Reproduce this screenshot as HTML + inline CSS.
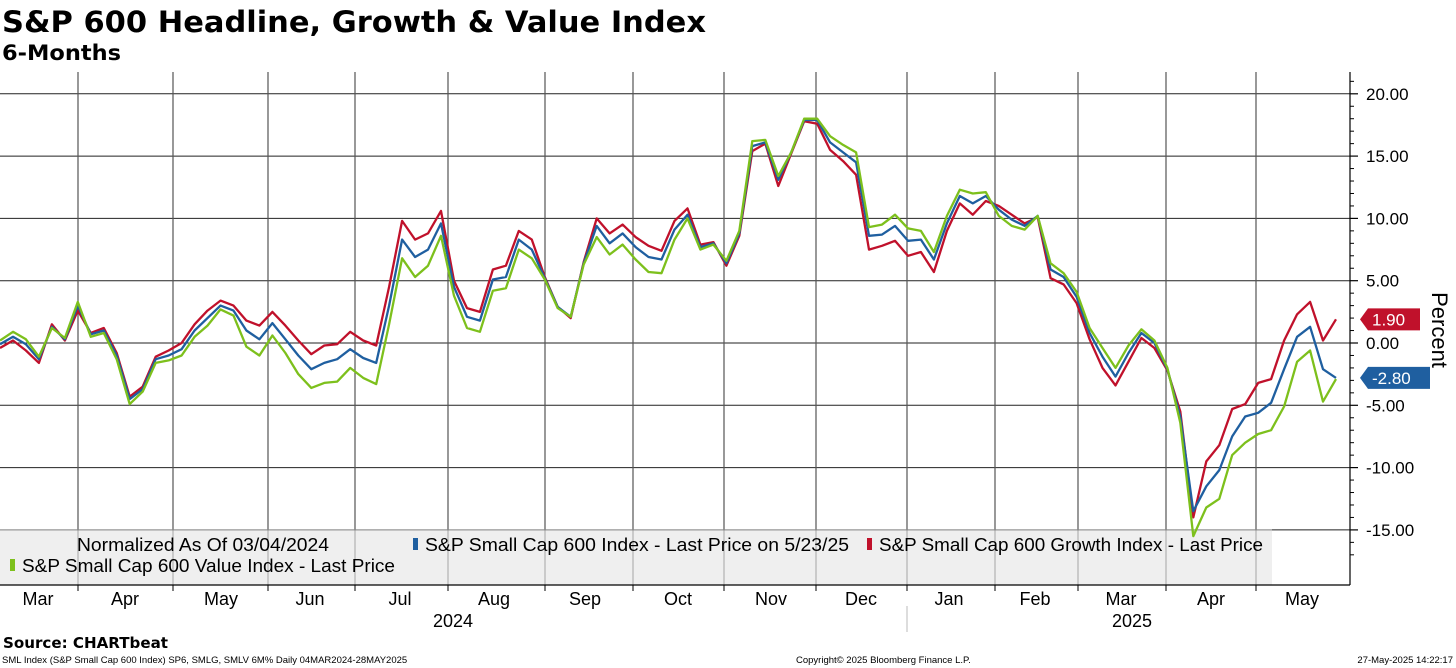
<!DOCTYPE html>
<html><head><meta charset="utf-8">
<style>
body{margin:0;background:#fff;font-family:"Liberation Sans",sans-serif;}
#wrap{position:relative;width:1456px;height:668px;overflow:hidden;}
</style></head>
<body>
<div id="wrap">
<svg id="chart" width="1456" height="668" xmlns="http://www.w3.org/2000/svg">
<text x="2" y="32" font-size="29" font-weight="bold" font-family="DejaVu Sans, sans-serif" textLength="704" lengthAdjust="spacingAndGlyphs">S&amp;P 600 Headline, Growth &amp; Value Index</text>
<text x="2" y="60" font-size="21" font-weight="bold" font-family="DejaVu Sans, sans-serif" textLength="119" lengthAdjust="spacingAndGlyphs">6-Months</text>
<g id="grid"></g>
<rect x="0" y="530" width="1272" height="55" fill="#efefef"/>
<line x1="0" y1="530" x2="1272" y2="530" stroke="#999" stroke-width="1"/>
<g id="vgrid2"></g>
<text x="77" y="551" font-size="18" font-family="Liberation Sans, sans-serif" textLength="252" lengthAdjust="spacingAndGlyphs">Normalized As Of 03/04/2024</text>
<g><rect x="413" y="538" width="5" height="12" fill="#1f5fa0"/><text x="425" y="551" font-size="18" font-family="Liberation Sans, sans-serif" textLength="424" lengthAdjust="spacingAndGlyphs">S&amp;P Small Cap 600 Index - Last Price on 5/23/25</text></g>
<g><rect x="867" y="538" width="5" height="12" fill="#c0112b"/><text x="879" y="551" font-size="18" font-family="Liberation Sans, sans-serif" textLength="384" lengthAdjust="spacingAndGlyphs">S&amp;P Small Cap 600 Growth Index - Last Price</text></g>
<g><rect x="10" y="559" width="5" height="12" fill="#7dc01c"/><text x="22" y="572" font-size="18" font-family="Liberation Sans, sans-serif" textLength="373" lengthAdjust="spacingAndGlyphs">S&amp;P Small Cap 600 Value Index - Last Price</text></g>
<g id="series"></g>
<g id="axes"></g>
<text transform="translate(1432,330) rotate(90)" text-anchor="middle" font-size="22" font-family="Liberation Sans, sans-serif">Percent</text>
<text x="453" y="627" text-anchor="middle" font-size="18" font-family="Liberation Sans, sans-serif">2024</text>
<text x="1132" y="627" text-anchor="middle" font-size="18" font-family="Liberation Sans, sans-serif">2025</text>
<line x1="907" y1="606" x2="907" y2="632" stroke="#bbb" stroke-width="1"/>
<text x="3" y="648" font-size="15" font-weight="bold" font-family="DejaVu Sans, sans-serif" textLength="165" lengthAdjust="spacingAndGlyphs">Source: CHARTbeat</text>
<text x="2" y="663" font-size="9.5" font-family="Liberation Sans, sans-serif">SML Index (S&amp;P Small Cap 600 Index) SP6, SMLG, SMLV 6M%  Daily 04MAR2024-28MAY2025</text>
<text x="796" y="663" font-size="9.5" font-family="Liberation Sans, sans-serif">Copyright© 2025 Bloomberg Finance L.P.</text>
<text x="1453" y="663" text-anchor="end" font-size="9.5" font-family="Liberation Sans, sans-serif">27-May-2025 14:22:17</text>
</svg>
</div>
<script>
const yTicks = [20, 15, 10, 5, 0, -5, -10, -15];
const monthLabels = ["Mar","Apr","May","Jun","Jul","Aug","Sep","Oct","Nov","Dec","Jan","Feb","Mar","Apr","May"];
const monthCenters = [38,125,221,310,400,494,585,678,771,861,949,1035,1121,1211,1302];
const monthBounds = [78,173,268,355,448,545,633,724,816,907,995,1078,1166,1256];
const blueValues = [-0.1,0.5,-0.1,-1.3,1.3,0.3,3.0,0.7,1.0,-1.0,-4.5,-3.7,-1.3,-1.0,-0.5,1.0,2.0,3.0,2.6,1.0,0.3,1.6,0.3,-1.0,-2.1,-1.6,-1.3,-0.5,-1.2,-1.6,3.0,8.3,6.9,7.5,9.6,4.5,2.1,1.8,5.1,5.3,8.3,7.5,5.2,2.9,2.1,6.4,9.4,8.0,8.8,7.7,6.9,6.7,9.1,10.3,7.7,8.0,6.4,8.8,15.8,16.1,13.1,15.3,17.9,17.9,16.1,15.3,14.5,8.6,8.7,9.4,8.2,8.3,6.7,9.6,11.8,11.2,11.8,10.7,9.9,9.4,10.2,5.9,5.3,3.7,0.8,-1.1,-2.7,-0.8,0.8,0.0,-2.1,-5.9,-13.5,-11.5,-10.2,-7.5,-5.9,-5.6,-4.8,-2.1,0.5,1.3,-2.1,-2.8];
const redValues = [-0.4,0.2,-0.6,-1.6,1.5,0.2,2.6,0.8,1.2,-0.8,-4.3,-3.5,-1.1,-0.6,0.0,1.5,2.6,3.4,3.0,1.8,1.4,2.5,1.4,0.2,-0.9,-0.2,-0.1,0.9,0.2,-0.2,4.5,9.8,8.3,8.8,10.6,5.0,2.8,2.5,5.9,6.2,9.0,8.3,5.3,2.9,2.0,6.5,10.0,8.8,9.5,8.5,7.8,7.4,9.8,10.8,7.9,8.1,6.2,8.6,15.4,16.0,12.6,15.2,17.8,17.6,15.5,14.6,13.5,7.5,7.8,8.2,7.0,7.3,5.7,9.0,11.2,10.3,11.4,11.0,10.3,9.6,10.1,5.2,4.7,3.2,0.3,-2.0,-3.4,-1.5,0.4,-0.4,-2.2,-5.5,-14.0,-9.5,-8.2,-5.3,-4.9,-3.2,-2.9,0.2,2.3,3.3,0.2,1.9];
const greenValues = [0.2,0.9,0.3,-1.1,1.2,0.4,3.3,0.5,0.8,-1.3,-4.9,-3.9,-1.6,-1.4,-1.0,0.5,1.4,2.7,2.2,-0.3,-1.0,0.6,-0.8,-2.5,-3.6,-3.2,-3.1,-2.0,-2.8,-3.3,1.5,6.8,5.3,6.2,8.6,3.8,1.2,0.9,4.2,4.4,7.5,6.8,5.1,2.8,2.1,6.3,8.5,7.1,7.9,6.7,5.7,5.6,8.3,10.0,7.5,7.9,6.6,9.0,16.2,16.3,13.4,15.3,18.0,18.0,16.6,15.9,15.3,9.3,9.5,10.3,9.2,9.0,7.3,10.2,12.3,12.0,12.1,10.2,9.4,9.1,10.2,6.4,5.6,4.1,1.2,-0.4,-2.0,-0.2,1.1,0.2,-2.0,-6.4,-15.5,-13.2,-12.5,-9.0,-8.0,-7.3,-7.0,-5.1,-1.5,-0.6,-4.7,-2.9];
const lastBlueLabel = "-2.80";
const lastRedLabel = "1.90";

const NS = "http://www.w3.org/2000/svg";
const X0 = 0, X1 = 1336, PLOT_R = 1350, PLOT_T = 72, PLOT_B = 585;
const yScale = v => 343 - v * 12.46;
const xScale = i => X0 + i * (X1 - X0) / (blueValues.length - 1);
function mk(tag, attrs, parent){const e=document.createElementNS(NS,tag);for(const k in attrs)e.setAttribute(k,attrs[k]);parent.appendChild(e);return e;}

const grid = document.getElementById('grid');
yTicks.forEach(t=>{
  const l = mk('line',{x1:0,x2:PLOT_R,y1:yScale(t),y2:yScale(t),stroke:'#222','stroke-width':1},grid);
  
  
});
const vg2 = document.getElementById('vgrid2');
monthBounds.forEach(x=>{
  const l = mk('line',{x1:x,x2:x,y1:PLOT_T,y2:PLOT_B,stroke:'#555','stroke-width':1.2},grid);
  
  
  const l2 = mk('line',{x1:x,x2:x,y1:530,y2:PLOT_B,stroke:'#777','stroke-width':1,opacity:0.6},vg2);
  
  
});

const series = document.getElementById('series');
[["red",redValues,"#c0112b"],["blue",blueValues,"#1f5fa0"],["green",greenValues,"#7dc01c"]].forEach(([n,vals,c])=>{
  const d = vals.map((v,i)=>(i?'L':'M')+xScale(i).toFixed(1)+','+yScale(v).toFixed(1)).join(' ');
  const p = mk('path',{d:d,fill:'none',stroke:c,'stroke-width':2.3,'stroke-linejoin':'round'},series);
  
  
});

const axes = document.getElementById('axes');
const ax = mk('line',{x1:PLOT_R,x2:PLOT_R,y1:PLOT_T,y2:PLOT_B,stroke:'#000','stroke-width':1.2},axes);


const bx = mk('line',{x1:0,x2:PLOT_R,y1:PLOT_B,y2:PLOT_B,stroke:'#000','stroke-width':1.2},axes);


yTicks.forEach(t=>{
  const y = yScale(t);
  const tk = mk('line',{x1:PLOT_R,x2:PLOT_R+8,y1:y,y2:y,stroke:'#000','stroke-width':1.2},axes);
  
  
  const tx = mk('text',{x:1366,y:y+6,'font-size':17,'font-family':'Liberation Sans, sans-serif'},axes);
  tx.textContent = (t<0?'-':'')+Math.abs(t).toFixed(2);
  
  
});
for(let v=-17;v<=21;v++){
  if(v%5===0) continue;
  const y=yScale(v);
  const m = mk('line',{x1:PLOT_R,x2:PLOT_R+4,y1:y,y2:y,stroke:'#000','stroke-width':1},axes);
  
  
}
monthBounds.forEach(x=>{
  const t = mk('line',{x1:x,x2:x,y1:PLOT_B,y2:PLOT_B+6,stroke:'#000','stroke-width':1},axes);
  
  
});
monthLabels.forEach((m,i)=>{
  const t = mk('text',{x:monthCenters[i],y:605,'text-anchor':'middle','font-size':18,'font-family':'Liberation Sans, sans-serif'},axes);
  t.textContent = m;
  
  
});
function badge(val,label,color,name){
  const y = yScale(val);
  const w = label.length*10+12;
  const g = mk('g',{},axes);
  
  
  mk('path',{d:`M1360,${y} L1368,${y-11} L${1368+w},${y-11} L${1368+w},${y+11} L1368,${y+11} Z`,fill:color},g);
  const t = mk('text',{x:1372,y:y+6,'font-size':17,fill:'#fff','font-family':'Liberation Sans, sans-serif'},g);
  t.textContent = label;
}
badge(redValues[redValues.length-1],lastRedLabel,'#c0112b','last-value-label-red');
badge(blueValues[blueValues.length-1],lastBlueLabel,'#1f5fa0','last-value-label-blue');
</script>
</body></html>
